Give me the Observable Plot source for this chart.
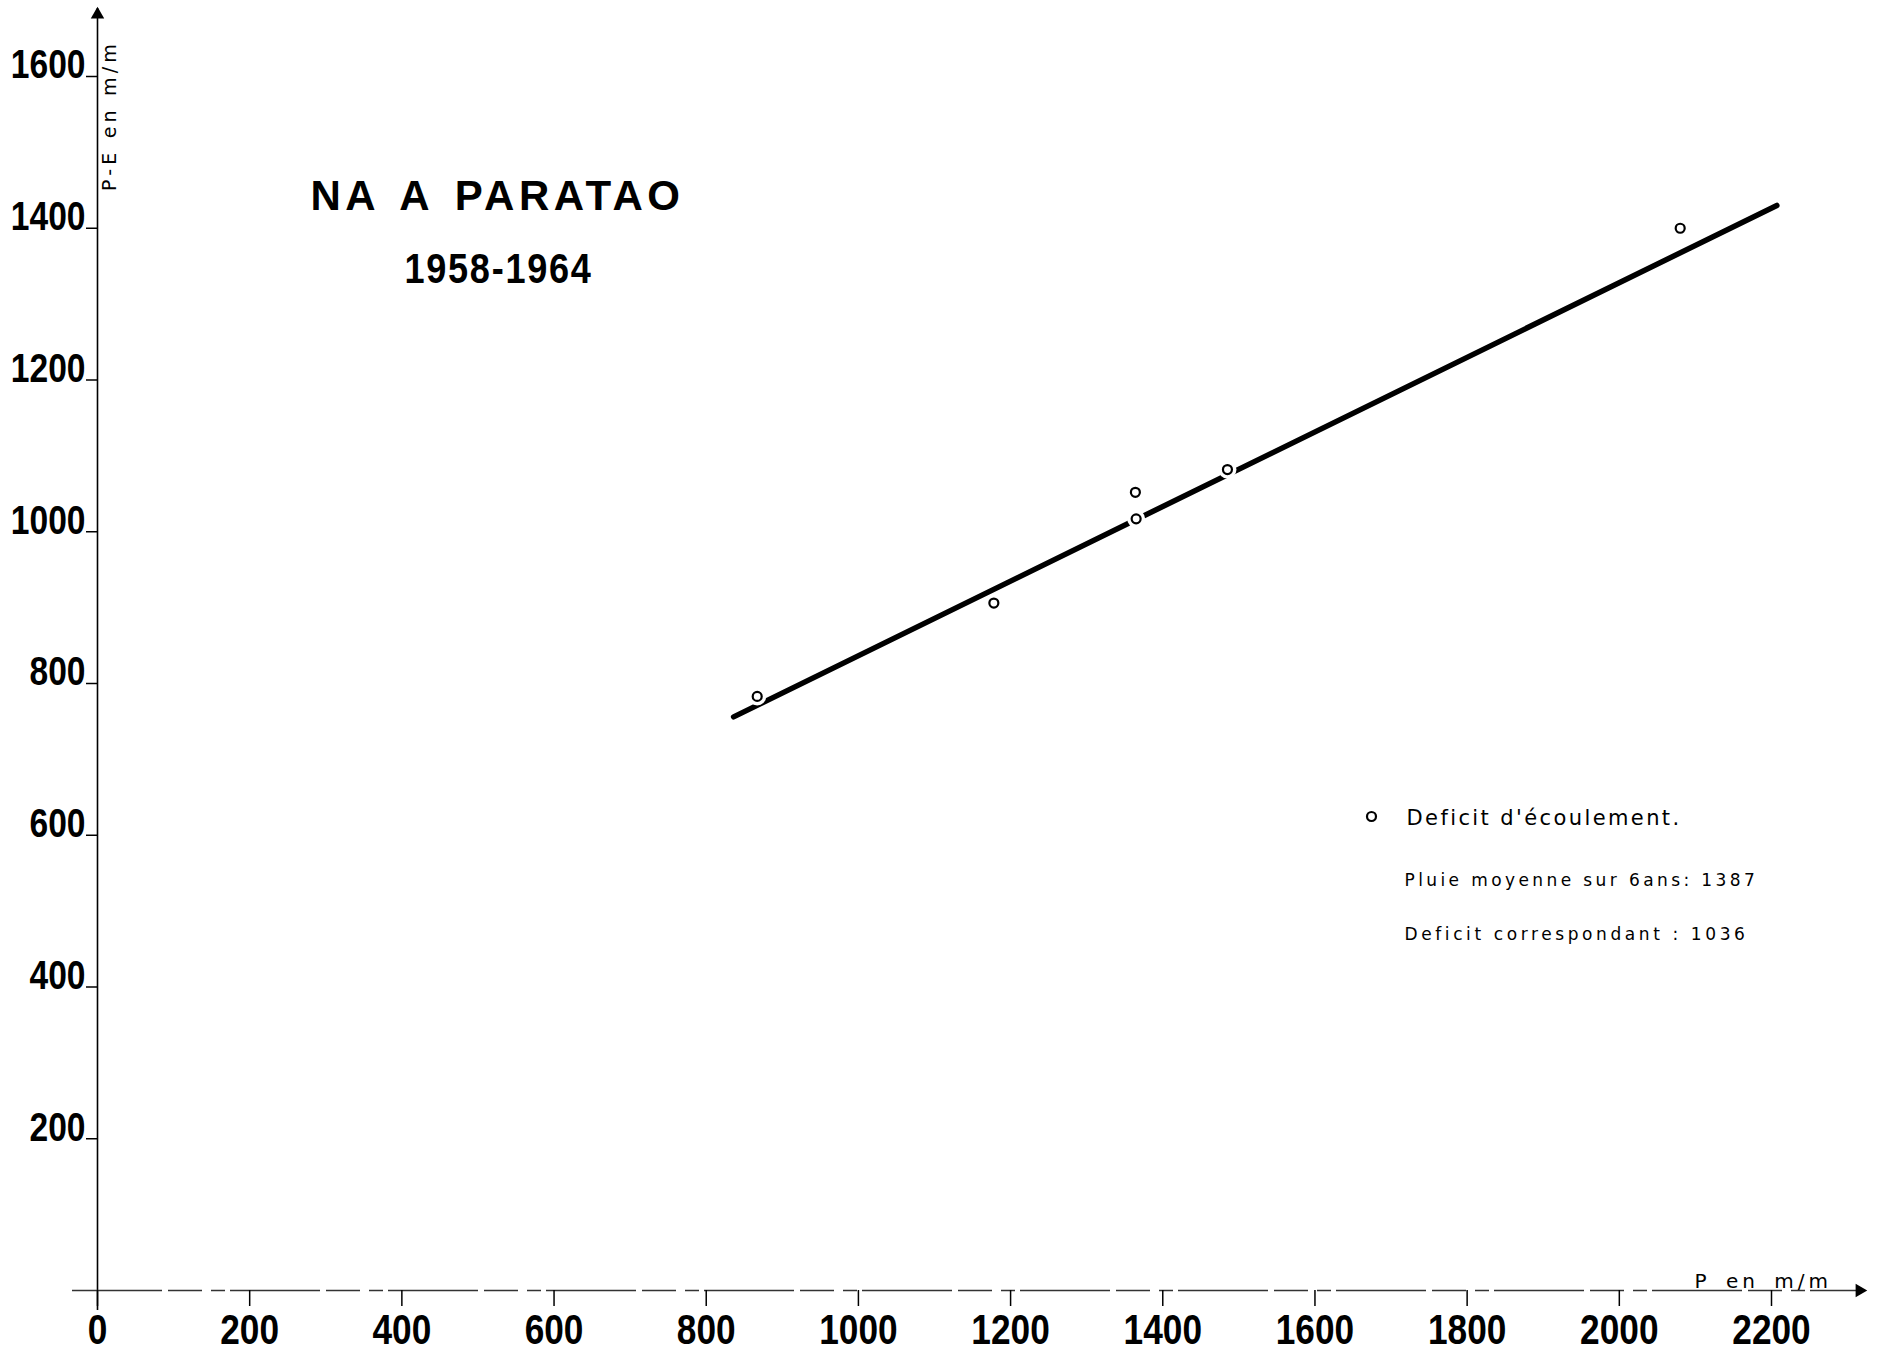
<!DOCTYPE html>
<html>
<head>
<meta charset="utf-8">
<script src="https://cdn.jsdelivr.net/npm/d3@7"></script>
<script src="https://cdn.jsdelivr.net/npm/@observablehq/plot@0.6"></script>
<style>
  html, body { margin: 0; padding: 0; background: #fff; }
  #chart { width: 1877px; height: 1364px; }
</style>
</head>
<body>
<div id="chart"></div>
<script>
// ---- Data ----
const rainfall = [867, 1178, 1364, 1365, 1485, 2080];   // P (mm)
const deficit  = [783, 906, 1052, 1017, 1082, 1400];    // P-E (mm)
const fitRainfall = [836, 2207];                         // drawn line ends (P)
const fitDeficit  = [756, 1430];                         // drawn line ends (P-E)
const xTicks = [0, 200, 400, 600, 800, 1000, 1200, 1400, 1600, 1800, 2000, 2200];
const yTicks = [200, 400, 600, 800, 1000, 1200, 1400, 1600];
const titleText = "NA A PARATAO";
const subtitleText = "1958-1964";
const legendSymbolLabel = "Deficit d'écoulement.";
const legendMeanLine = "Pluie moyenne sur 6ans: 1387";
const legendDeficitLine = "Deficit correspondant : 1036";
const xAxisLabel = "P en m/m";
const yAxisLabel = "P-E en m/m";

const points = rainfall.map((p, i) => ({p, d: deficit[i]}));
const fit = fitRainfall.map((p, i) => ({p, d: fitDeficit[i]}));

const numFont = "'Liberation Sans', Arial, sans-serif";
const handFont = "'DejaVu Sans', sans-serif";
const fmt = d => String(d);

const plot = Plot.plot({
  width: 1877,
  height: 1364,
  marginLeft: 97,
  marginRight: 106,
  marginTop: 76,
  marginBottom: 74,
  x: {domain: [0, 2200], axis: null},
  y: {domain: [0, 1600], axis: null},
  style: {background: "white", color: "black", fontFamily: numFont},
  marks: [
    // axis lines
    Plot.ruleX([0], {stroke: "black", strokeWidth: 1.6, insetTop: -68, insetBottom: -20}),
    Plot.ruleY([0], {stroke: "#333", strokeWidth: 1.5, insetLeft: -25, insetRight: -92, strokeDasharray: "90,6,34,9,14,5"}),
    Plot.dot({length: 1}, {frameAnchor: "top-left", dy: -62, symbol: "triangle", r: 5, fill: "black", stroke: "none"}),
    Plot.dot({length: 1}, {frameAnchor: "bottom-right", dx: 88, symbol: "triangle", rotate: 90, r: 5, fill: "black", stroke: "none"}),
    // ticks
    Plot.axisX({ticks: xTicks, tickSize: 16, fill: "none", strokeWidth: 1.5, label: null}),
    Plot.axisY({ticks: yTicks, tickSize: 11, fill: "none", strokeWidth: 1.5, label: null}),
    // tick labels
    Plot.axisX({ticks: xTicks, tickFormat: fmt, tickSize: 0, tickPadding: 24, fontSize: 42, fontWeight: "bold", label: null, stroke: "none"}),
    Plot.axisY({ticks: yTicks, tickFormat: fmt, tickSize: 0, tickPadding: 12, dy: -11, fontSize: 40, fontWeight: "bold", label: null, stroke: "none"}),
    // axis titles
    Plot.text([xAxisLabel], {frameAnchor: "bottom-right", dx: -77, dy: -3, textAnchor: "start", fontSize: 20, fontFamily: handFont}),
    Plot.text([yAxisLabel], {frameAnchor: "top-left", dx: 5, dy: 39, rotate: -90, textAnchor: "middle", fontSize: 19, fontFamily: handFont}),
    // fitted line and observations
    Plot.line(fit, {x: "p", y: "d", stroke: "black", strokeWidth: 5.5, strokeLinecap: "round"}),
    Plot.dot(points, {x: "p", y: "d", r: 9, fill: "white", stroke: "none"}),
    Plot.dot(points, {x: "p", y: "d", r: 4.5, fill: "white", stroke: "black", strokeWidth: 2.2}),
    // title
    Plot.text([titleText], {frameAnchor: "top-left", dx: 400, dy: 104, textAnchor: "middle", fontSize: 42, fontWeight: "bold", fontFamily: numFont}),
    Plot.text([subtitleText], {frameAnchor: "top-left", dx: 401, dy: 177, textAnchor: "middle", fontSize: 42, fontWeight: "bold", fontFamily: numFont}),
    // legend
    Plot.dot({length: 1}, {frameAnchor: "top-left", dx: 1274, dy: 740, r: 4.5, fill: "white", stroke: "black", strokeWidth: 2.2}),
    Plot.text([legendSymbolLabel], {frameAnchor: "top-left", dx: 1309, dy: 734, textAnchor: "start", fontSize: 21, fontFamily: handFont}),
    Plot.text([legendMeanLine], {frameAnchor: "top-left", dx: 1307, dy: 797, textAnchor: "start", fontSize: 17, fontFamily: handFont}),
    Plot.text([legendDeficitLine], {frameAnchor: "top-left", dx: 1307, dy: 851, textAnchor: "start", fontSize: 17, fontFamily: handFont})
  ]
});

const sel = d3.select(plot);
const byText = t => sel.selectAll("text").filter(function() { return this.textContent === t; });
byText(titleText).style("letter-spacing", "4.5px").style("word-spacing", "6px");
byText(subtitleText).style("letter-spacing", "2px");
byText(legendSymbolLabel).style("letter-spacing", "2.4px");
byText(legendMeanLine).style("letter-spacing", "3.4px");
byText(legendDeficitLine).style("letter-spacing", "3.6px");
byText(xAxisLabel).style("letter-spacing", "4px").style("word-spacing", "5px");
byText(yAxisLabel).style("letter-spacing", "4.2px");

// condense the numeric labels (narrow stencil lettering)
const condense = (nodes, k) => nodes.each(function() {
  const t = this.getAttribute("transform") || "";
  this.setAttribute("transform", (t + ` scale(${k},1)`).trim());
});
const tickTexts = sel.selectAll("text").filter(function() {
  return /^\d+$/.test(this.textContent);
});
condense(tickTexts, 0.84);
condense(byText(subtitleText), 0.86);

document.getElementById("chart").appendChild(plot);
</script>
</body>
</html>
